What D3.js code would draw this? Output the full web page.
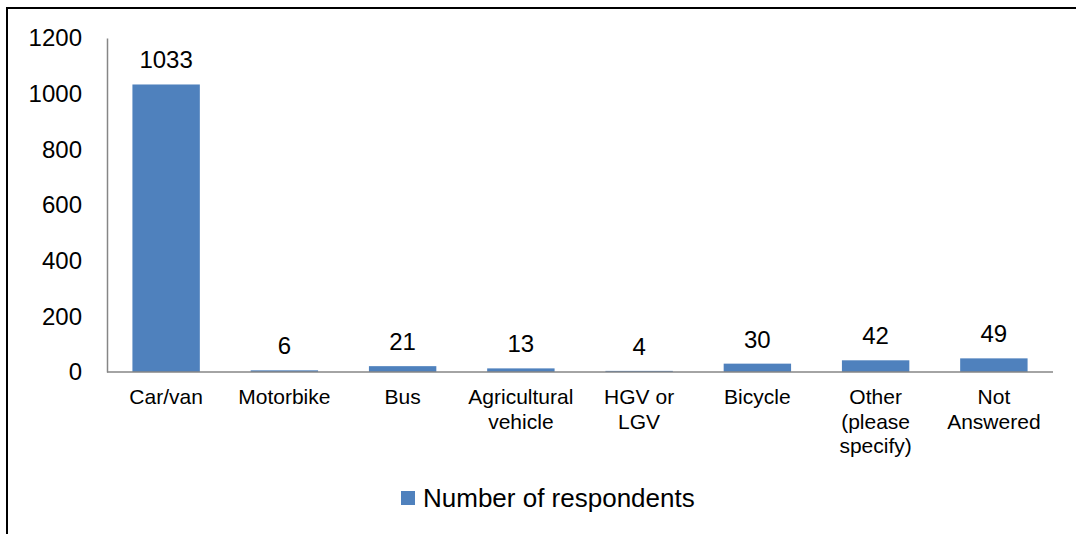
<!DOCTYPE html>
<html>
<head>
<meta charset="utf-8">
<script src="https://cdn.jsdelivr.net/npm/d3@7"></script>
<style>
  body { margin: 0; background: #fff; }
  svg { display: block; font-family: "Liberation Sans", Arial, sans-serif; }
</style>
</head>
<body>
<div></div>
<script>
const categories = [
  ["Car/van"],
  ["Motorbike"],
  ["Bus"],
  ["Agricultural", "vehicle"],
  ["HGV or", "LGV"],
  ["Bicycle"],
  ["Other", "(please", "specify)"],
  ["Not", "Answered"]
];
const respondents = [1033, 6, 21, 13, 4, 30, 42, 49];
const yTicks = [0, 200, 400, 600, 800, 1000, 1200];
const seriesName = "Number of respondents";

const width = 1076;
const height = 534;
const barColor = "#4f81bd";

const svg = d3
  .select("div")
  .append("svg")
  .attr("width", width)
  .attr("height", height);

// outer chart frame (only top and left edges visible)
svg
  .append("rect")
  .attr("x", 7)
  .attr("y", 8)
  .attr("width", width + 20)
  .attr("height", height + 20)
  .attr("fill", "none")
  .attr("stroke", "#000")
  .attr("stroke-width", 2);

const x = d3
  .scaleBand()
  .domain(d3.range(categories.length))
  .range([107, 1053])
  .paddingInner(0.43)
  .paddingOuter(0.215);

const y = d3.scaleLinear().domain([0, 1200]).range([372, 38]);

// y axis
const yAxis = svg
  .append("g")
  .attr("transform", "translate(107,0)")
  .call(
    d3.axisLeft(y)
      .tickValues(yTicks)
      .tickFormat(d3.format("d"))
      .tickSize(0)
      .tickPadding(25)
  );
yAxis.select(".domain").attr("stroke", "#868686").attr("stroke-width", 1.5);
yAxis.selectAll("text").attr("font-size", "24px").attr("fill", "#000")
  .attr("font-family", "Liberation Sans, Arial, sans-serif");

// bars
svg
  .selectAll("rect.bar")
  .data(respondents)
  .enter()
  .append("rect")
  .attr("class", "bar")
  .attr("x", (d, i) => x(i))
  .attr("width", x.bandwidth())
  .attr("y", (d) => y(d))
  .attr("height", (d) => y(0) - y(d))
  .attr("fill", barColor);

// x axis baseline
svg
  .append("line")
  .attr("x1", 107)
  .attr("x2", 1053)
  .attr("y1", y(0))
  .attr("y2", y(0))
  .attr("stroke", "#868686")
  .attr("stroke-width", 1.5);

// value labels
svg
  .selectAll("text.value")
  .data(respondents)
  .enter()
  .append("text")
  .attr("class", "value")
  .attr("x", (d, i) => x(i) + x.bandwidth() / 2)
  .attr("y", (d) => y(d) - 16)
  .attr("text-anchor", "middle")
  .attr("font-size", "24px")
  .text((d) => d);

// category labels
svg
  .selectAll("text.cat")
  .data(categories)
  .enter()
  .append("text")
  .attr("class", "cat")
  .attr("text-anchor", "middle")
  .attr("font-size", "21px")
  .selectAll("tspan")
  .data((d, i) => d.map((t) => ({ t, i })))
  .enter()
  .append("tspan")
  .attr("x", (d) => x(d.i) + x.bandwidth() / 2)
  .attr("y", (d, j) => 404 + j * 24.5)
  .text((d) => d.t);

// legend
const legend = svg.append("g").attr("transform", "translate(401,491)");
legend
  .append("rect")
  .attr("width", 14)
  .attr("height", 14)
  .attr("fill", barColor);
legend
  .append("text")
  .attr("x", 22)
  .attr("y", 16)
  .attr("font-size", "26px")
  .text(seriesName);
</script>
</body>
</html>
